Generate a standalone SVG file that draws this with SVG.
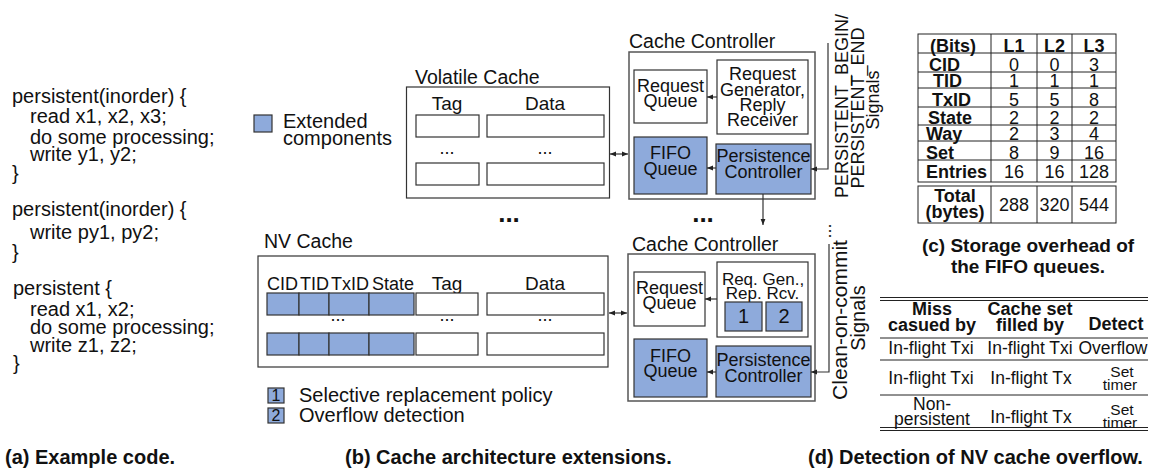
<svg xmlns="http://www.w3.org/2000/svg" width="1156" height="468" viewBox="0 0 1156 468">
<defs>
<marker id="ah" viewBox="0 0 10 10" refX="10" refY="5" markerWidth="6" markerHeight="6" markerUnits="userSpaceOnUse" orient="auto-start-reverse"><path d="M0,1 L10,5 L0,9 z" fill="#222"/></marker>
</defs>
<style>
text{font-family:"Liberation Sans",Arial,sans-serif;fill:#111;font-size:18px}
.code{font-size:20px}
.lbl{font-size:19.5px}
.hd{font-size:19px}
.c{text-anchor:middle}
.b{font-weight:bold}
.box{fill:#fff;stroke:#333;stroke-width:1.2}
.ext{fill:#8eaadb;stroke:#333;stroke-width:1.2}
.outer{fill:#fff;stroke:#555;stroke-width:1.5}
.ln{stroke:#333;stroke-width:1.2;fill:none}
.tl{stroke:#222;stroke-width:1;fill:none}
.cap{font-size:20px;font-weight:bold}
.dt{font-size:17.5px}
.sm{font-size:15.5px}
</style>

<!-- (a) example code -->
<g id="code">
<text class="code" x="12" y="103">persistent(inorder) {</text>
<text class="code" x="30" y="123">read x1, x2, x3;</text>
<text class="code" x="30" y="144">do some processing;</text>
<text class="code" x="30" y="161">write y1, y2;</text>
<text class="code" x="12" y="180">}</text>
<text class="code" x="12" y="216">persistent(inorder) {</text>
<text class="code" x="30" y="239">write py1, py2;</text>
<text class="code" x="12" y="259">}</text>
<text class="code" x="13" y="295">persistent {</text>
<text class="code" x="30" y="316">read x1, x2;</text>
<text class="code" x="30" y="334">do some processing;</text>
<text class="code" x="30" y="352">write z1, z2;</text>
<text class="code" x="13" y="370">}</text>
</g>

<!-- legend -->
<g id="legend">
<rect class="ext" x="254" y="115" width="18" height="17"/>
<text class="code" x="283" y="128">Extended</text>
<text class="code" x="283" y="145">components</text>
<rect class="ext" x="268" y="388" width="16" height="15"/>
<text x="276" y="401" class="c" style="font-size:16px">1</text>
<text class="code" x="299" y="402">Selective replacement policy</text>
<rect class="ext" x="268" y="408" width="16" height="15"/>
<text x="276" y="421" class="c" style="font-size:16px">2</text>
<text class="code" x="299" y="422">Overflow detection</text>
</g>

<!-- volatile cache -->
<g id="volatile-cache">
<text class="lbl" x="415" y="84">Volatile Cache</text>
<rect class="box" x="406.5" y="87" width="203" height="111"/>
<text class="hd c" x="447" y="110">Tag</text>
<text class="hd c" x="545" y="110">Data</text>
<rect class="box" x="416" y="115" width="63" height="22"/>
<rect class="box" x="487" y="115" width="117" height="22"/>
<text class="c" x="447" y="154">...</text>
<text class="c" x="545" y="154">...</text>
<rect class="box" x="416" y="163" width="63" height="22"/>
<rect class="box" x="487" y="163" width="117" height="22"/>
</g>

<!-- NV cache -->
<g id="nv-cache">
<text class="lbl" x="264" y="248">NV Cache</text>
<rect class="box" x="258" y="256" width="350" height="111"/>
<text x="267" y="290">CID</text>
<text x="300" y="290">TID</text>
<text x="331" y="290">TxID</text>
<text x="372" y="290">State</text>
<text class="hd c" x="447" y="290">Tag</text>
<text class="hd c" x="545" y="290">Data</text>
<rect class="ext" x="267" y="293" width="32" height="22"/>
<rect class="ext" x="299" y="293" width="30" height="22"/>
<rect class="ext" x="329" y="293" width="40" height="22"/>
<rect class="ext" x="369" y="293" width="45" height="22"/>
<rect class="box" x="416" y="293" width="62" height="22"/>
<rect class="box" x="487" y="293" width="117" height="22"/>
<text class="c" x="338" y="321">...</text>
<text class="c" x="447" y="321">...</text>
<text class="c" x="545" y="321">...</text>
<rect class="ext" x="267" y="333" width="32" height="22"/>
<rect class="ext" x="299" y="333" width="30" height="22"/>
<rect class="ext" x="329" y="333" width="40" height="22"/>
<rect class="ext" x="369" y="333" width="45" height="22"/>
<rect class="box" x="416" y="333" width="62" height="22"/>
<rect class="box" x="487" y="333" width="117" height="22"/>
</g>

<!-- upper cache controller -->
<g id="controller-top">
<text class="lbl" x="629" y="48">Cache Controller</text>
<rect class="outer" x="629" y="52" width="186" height="147"/>
<rect class="box" x="634" y="70" width="73" height="53"/>
<text class="c" x="670.5" y="92">Request</text>
<text class="c" x="670.5" y="107">Queue</text>
<rect class="box" x="717" y="60" width="91" height="74"/>
<text class="c" x="762.5" y="80">Request</text>
<text class="c" x="762.5" y="96">Generator,</text>
<text class="c" x="762.5" y="111">Reply</text>
<text class="c" x="762.5" y="126">Receiver</text>
<rect class="ext" x="634" y="137" width="73" height="57"/>
<text class="c" x="670.5" y="159">FIFO</text>
<text class="c" x="670.5" y="175">Queue</text>
<rect class="ext" x="716" y="144" width="95" height="50"/>
<text class="c" x="763.5" y="162">Persistence</text>
<text class="c" x="763.5" y="178">Controller</text>
</g>

<!-- lower cache controller -->
<g id="controller-bottom">
<text class="lbl" x="632" y="251">Cache Controller</text>
<rect class="outer" x="628" y="254" width="187" height="147"/>
<rect class="box" x="634" y="272" width="71" height="54"/>
<text class="c" x="669.5" y="294">Request</text>
<text class="c" x="669.5" y="309">Queue</text>
<rect class="box" x="717" y="262" width="91" height="75"/>
<text class="c" x="763" y="284.5" style="font-size:17px">Req. Gen.,</text>
<text class="c" x="762.5" y="298.5" style="font-size:17px">Rep. Rcv.</text>
<rect class="ext" x="725" y="302" width="37" height="29"/>
<text class="c" x="743.5" y="323" style="font-size:20px">1</text>
<rect class="ext" x="766" y="302" width="36" height="29"/>
<text class="c" x="784" y="323" style="font-size:20px">2</text>
<rect class="ext" x="634" y="339" width="73" height="58"/>
<text class="c" x="670.5" y="362">FIFO</text>
<text class="c" x="670.5" y="377">Queue</text>
<rect class="ext" x="716" y="346" width="95" height="51"/>
<text class="c" x="763.5" y="366">Persistence</text>
<text class="c" x="763.5" y="382">Controller</text>
</g>

<!-- signal labels -->
<g id="signals-top">
<text class="c" transform="translate(848,106) rotate(-90)">PERSISTENT_BEGIN/</text>
<text class="c" transform="translate(864,108) rotate(-90)">PERSISTENT_END</text>
<text class="c" transform="translate(879,100) rotate(-90)">Signals</text>
</g>
<g id="signals-bottom">
<text class="c" transform="translate(831,231) rotate(-90)">...</text>
<text class="c" transform="translate(847,320) rotate(-90)" style="font-size:21px">Clean-on-commit</text>
<text class="c" transform="translate(865,318) rotate(-90)" style="font-size:20px">Signals</text>
</g>

<!-- elision between levels -->
<g id="ellipsis">
<text class="c b" x="509" y="222" style="font-size:26px">...</text>
<text class="c b" x="703" y="222" style="font-size:26px">...</text>
</g>

<!-- connectors -->
<g id="connectors" class="ln">
<line x1="610" y1="154" x2="628" y2="154" marker-start="url(#ah)" marker-end="url(#ah)"/>
<line x1="609" y1="313" x2="627" y2="313" marker-start="url(#ah)" marker-end="url(#ah)"/>
<line x1="717" y1="97" x2="707" y2="97" marker-end="url(#ah)"/>
<line x1="716" y1="168" x2="707" y2="168" marker-end="url(#ah)"/>
<path d="M828,43 V169 H811" marker-end="url(#ah)"/>
<line x1="763" y1="194" x2="763" y2="225" marker-end="url(#ah)"/>
<line x1="717" y1="299" x2="705" y2="299" marker-end="url(#ah)"/>
<line x1="716" y1="372" x2="707" y2="372" marker-end="url(#ah)"/>
<path d="M829,244 V372 H811" marker-end="url(#ah)"/>
</g>

<!-- (c) storage table -->
<g id="storage-table">
<rect x="918" y="34" width="198" height="148" class="tl" stroke-width="1.5"/>
<path class="tl" d="M918,53 H1116 M918,72 H1116 M918,88 H1116 M918,107 H1116 M918,125 H1116 M918,141 H1116 M918,160 H1116 M991,34 V182 M1037,34 V182 M1072,34 V182"/>
<text class="b" x="930" y="52">(Bits)</text>
<text class="b c" x="1014" y="52">L1</text>
<text class="b c" x="1054.5" y="52">L2</text>
<text class="b c" x="1094" y="52">L3</text>
<text class="b" x="929" y="71">CID</text>
<text class="b" x="933" y="87">TID</text>
<text class="b" x="932" y="106">TxID</text>
<text class="b" x="928" y="124">State</text>
<text class="b" x="926" y="140">Way</text>
<text class="b" x="926" y="159">Set</text>
<text class="b" x="926" y="178">Entries</text>
<g class="c">
<text x="1014" y="71">0</text><text x="1054.5" y="71">0</text><text x="1094" y="71">3</text>
<text x="1014" y="87">1</text><text x="1054.5" y="87">1</text><text x="1094" y="87">1</text>
<text x="1014" y="106">5</text><text x="1054.5" y="106">5</text><text x="1094" y="106">8</text>
<text x="1014" y="124">2</text><text x="1054.5" y="124">2</text><text x="1094" y="124">2</text>
<text x="1014" y="140">2</text><text x="1054.5" y="140">3</text><text x="1094" y="140">4</text>
<text x="1014" y="159">8</text><text x="1054.5" y="159">9</text><text x="1094" y="159">16</text>
<text x="1014" y="178">16</text><text x="1054.5" y="178">16</text><text x="1094" y="178">128</text>
</g>
<rect x="918" y="186" width="198" height="37" class="tl" stroke-width="1.5"/>
<path class="tl" d="M991,186 V223 M1037,186 V223 M1072,186 V223"/>
<text class="b c" x="955" y="202">Total</text>
<text class="b c" x="955" y="218">(bytes)</text>
<text class="c" x="1014" y="211">288</text>
<text class="c" x="1054.5" y="211">320</text>
<text class="c" x="1094" y="211">544</text>
<text class="b c" x="1028" y="252" style="font-size:19px">(c) Storage overhead of</text>
<text class="b c" x="1028" y="273" style="font-size:19px">the FIFO queues.</text>
</g>

<!-- (d) overflow detection table -->
<g id="detect-table">
<path class="tl" d="M880,297.5 H1148 M880,300.5 H1148 M880,338 H1148 M880,360 H1148 M880,395 H1148 M880,427.5 H1148 M880,430.5 H1148"/>
<text class="b c" x="932" y="315">Miss</text>
<text class="b c" x="932" y="331">casued by</text>
<text class="b c" x="1030" y="315">Cache set</text>
<text class="b c" x="1030" y="331">filled by</text>
<text class="b c" x="1116" y="330">Detect</text>
<text class="c dt" x="931" y="354">In-flight Txi</text>
<text class="c dt" x="1030" y="354">In-flight Txi</text>
<text class="c dt" x="1113" y="354">Overflow</text>
<text class="c dt" x="931" y="384">In-flight Txi</text>
<text class="c dt" x="1031" y="384">In-flight Tx</text>
<text class="c sm" x="1122" y="377">Set</text>
<text class="c sm" x="1120" y="390">timer</text>
<text class="c dt" x="932" y="410">Non-</text>
<text class="c dt" x="932" y="425">persistent</text>
<text class="c dt" x="1031" y="423">In-flight Tx</text>
<text class="c sm" x="1122" y="415">Set</text>
<text class="c sm" x="1120" y="428">timer</text>
</g>

<!-- sub-figure captions -->
<g id="captions">
<text class="cap" x="5" y="464">(a) Example code.</text>
<text class="cap" x="345" y="464">(b) Cache architecture extensions.</text>
<text class="cap" x="808" y="464">(d) Detection of NV cache overflow.</text>
</g>
</svg>
